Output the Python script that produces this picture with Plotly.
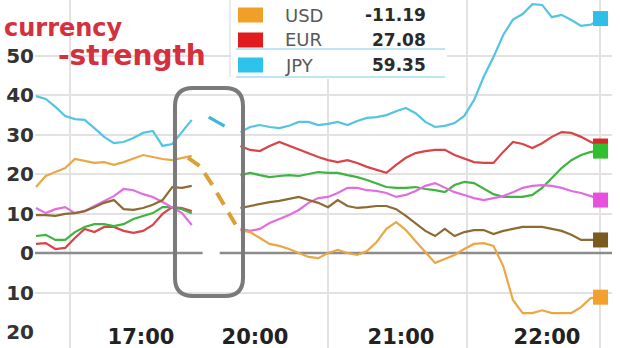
import plotly.graph_objects as go

# ---------------- data ----------------
# time axis in minutes (compressed display axis; left block and right block separated by a gap)
left_t = list(range(30, 95, 4))      # 17 samples
right_t = list(range(114, 263, 4))   # 38 samples

jpy_left = [39.7, 39.0, 37.0, 34.7, 33.9, 33.7, 31.6, 29.4, 27.8, 28.1, 29.1, 30.4, 30.9, 27.1, 27.6, 30.6, 33.7]
jpy_right = [30.6, 31.9, 32.4, 31.9, 31.6, 32.2, 33.2, 33.2, 32.4, 32.7, 33.2, 32.4, 33.4, 34.2, 34.4, 34.9, 35.9, 36.7, 35.4, 33.2,
             31.9, 32.2, 32.9, 34.7, 38.7, 44.6, 49.6, 55.2, 59.1, 60.5, 63.0, 62.8, 59.7, 60.3, 59.0, 57.5, 57.8, 59.35]
eur_left = [2.3, 2.5, 1.0, 1.3, 3.8, 6.1, 5.3, 6.6, 6.6, 5.6, 5.1, 5.6, 7.1, 9.9, 11.6, 11.4, 10.6]
eur_right = [27.1, 26.1, 25.8, 27.1, 28.1, 27.1, 26.1, 25.3, 24.3, 23.5, 23.0, 23.5, 22.8, 21.8, 21.0, 20.3, 22.3, 24.1, 25.3, 25.8,
             26.1, 26.1, 24.8, 23.8, 23.0, 22.8, 22.8, 25.6, 28.1, 27.6, 26.6, 27.8, 29.4, 30.6, 30.4, 29.4, 28.1, 27.08]
grn_left = [4.3, 4.6, 3.3, 3.3, 5.3, 6.6, 7.3, 7.3, 6.8, 7.3, 8.6, 9.4, 10.1, 11.6, 11.6, 11.1, 10.1]
grn_right = [19.7, 20.3, 19.7, 19.2, 19.5, 19.7, 19.5, 20.0, 20.5, 20.3, 20.3, 19.7, 19.2, 18.5, 17.5, 16.7, 16.5, 16.5, 16.7, 16.2,
             15.9, 15.4, 17.2, 18.0, 17.7, 16.2, 14.9, 14.2, 14.2, 14.2, 14.7, 16.5, 19.0, 21.5, 23.5, 24.8, 25.6, 25.8]
mag_left = [11.4, 10.1, 11.1, 11.6, 10.1, 10.6, 11.9, 13.2, 14.4, 16.2, 15.9, 14.9, 14.2, 12.9, 11.6, 10.1, 7.1]
mag_right = [6.1, 5.6, 6.1, 7.6, 8.6, 9.6, 10.9, 12.7, 13.9, 14.2, 15.2, 16.5, 16.5, 15.9, 15.7, 15.2, 14.2, 14.7, 15.7, 17.0,
             17.7, 16.5, 15.4, 14.7, 13.9, 13.4, 13.9, 14.4, 15.4, 16.5, 17.0, 17.2, 17.0, 16.5, 15.7, 15.2, 14.4, 13.4]
brn_left = [9.6, 9.6, 9.4, 9.9, 10.1, 10.6, 11.6, 12.7, 13.4, 11.1, 10.9, 11.4, 12.2, 13.4, 16.7, 16.5, 17.0]
brn_right = [11.4, 11.9, 12.4, 12.9, 13.2, 13.7, 14.2, 13.4, 12.7, 11.6, 13.4, 11.9, 11.4, 11.6, 11.9, 11.9, 11.1, 9.4, 7.6, 5.6,
             4.3, 6.1, 4.3, 5.3, 5.8, 5.8, 4.8, 5.6, 6.1, 6.6, 6.6, 6.6, 6.1, 5.6, 4.6, 3.3, 3.3, 3.3]
usd_left = [16.7, 19.5, 20.5, 21.5, 23.8, 23.3, 22.8, 23.0, 22.3, 23.0, 23.8, 24.8, 24.3, 23.8, 23.5, 24.1, 24.6]
usd_right = [5.8, 5.3, 3.8, 2.3, 1.8, 1.0, 0.0, -1.0, -1.3, 0.0, 0.8, 0.0, -0.5, 0.5, 2.8, 6.1, 7.8, 5.8, 3.0, 0.3,
             -2.5, -1.5, -0.5, 1.0, 2.3, 2.5, 1.8, -3.3, -11.9, -15.2, -15.2, -14.5, -15.2, -15.2, -15.2, -13.7, -11.4, -11.19]

# pieces drawn inside the gap
jpy_gap_t = [101, 107.5]
jpy_gap_v = [34.4, 32.1]
usd_gap_t = [92.5, 97.4, 102.7, 108.5, 113.8]
usd_gap_v = [24.1, 22.0, 17.0, 11.1, 5.3]

series = [
    # name, left, right, color
    ("JPY", jpy_left, jpy_right, "#55c4e2"),
    ("EUR", eur_left, eur_right, "#d84448"),
    ("S4", grn_left, grn_right, "#3fb43f"),
    ("S5", mag_left, mag_right, "#e06ee0"),
    ("S6", brn_left, brn_right, "#8d6b32"),
    ("USD", usd_left, usd_right, "#e9a845"),
]
marker_colors = {"JPY": "#30bde8", "EUR": "#d42a2a", "S4": "#2fbf2f", "S5": "#e650dc", "S6": "#7a5a1e", "USD": "#f2a22c"}

legend_names = ["USD", "EUR", "JPY"]
legend_colors = ["#f0a028", "#e01c1c", "#2ec3ea"]
legend_values = [usd_right[-1], eur_right[-1], jpy_right[-1]]

x_ticks = [73.15, 120, 180, 240]
x_ticktext = ["17:00", "20:00", "21:00", "22:00"]
x_grid = [44, 150, 207.1, 261.8]
y_ticks = [50, 40, 30, 20, 10, 0, -10, -20]
y_ticktext = ["50", "40", "30", "20", "10", "0", "10", "20"]
y_grid = [50, 40, 30, 20, 10, -10]

title_lines = ["currency", "-strength"]

# ---------------- layout helpers ----------------
W, H = 620, 348
ML, MR = 35, 8
PW = W - ML - MR
X_RANGE = [29.59, 266.71]
Y_RANGE = [-24.05, 64.05]


def px_x(p):
    return (p - ML) / PW


def px_y(p):
    return 1 - p / H


fig = go.Figure()

for name, lv, rv, col in series:
    xs = left_t + [None] + right_t
    ys = lv + [None] + rv
    fig.add_trace(go.Scatter(x=xs, y=ys, mode="lines", name=name,
                             line=dict(color=col, width=2.2), hoverinfo="skip"))

fig.add_trace(go.Scatter(x=jpy_gap_t, y=jpy_gap_v, mode="lines",
                         line=dict(color="#3ab8dc", width=3.2), hoverinfo="skip"))
fig.add_trace(go.Scatter(x=usd_gap_t, y=usd_gap_v, mode="lines",
                         line=dict(color="#dba036", width=4, dash="14px,9px"), hoverinfo="skip"))

for name, lv, rv, col in series:
    fig.add_trace(go.Scatter(x=[right_t[-1]], y=[rv[-1]], mode="markers",
                             marker=dict(symbol="square", size=15, color=marker_colors[name]),
                             hoverinfo="skip"))

# invisible trace to carry the grid axes
fig.add_trace(go.Scatter(x=[X_RANGE[0]], y=[Y_RANGE[0]], xaxis="x2", yaxis="y2",
                         mode="markers", marker=dict(opacity=0), hoverinfo="skip"))

shapes = []
# broken zero line
shapes.append(dict(type="line", xref="x", yref="y", x0=X_RANGE[0], x1=98.5, y0=0, y1=0,
                   line=dict(color="#8c8c8c", width=2.5), layer="between"))
shapes.append(dict(type="line", xref="x", yref="y", x0=105.5, x1=X_RANGE[1], y0=0, y1=0,
                   line=dict(color="#8c8c8c", width=2.5), layer="between"))

# rounded rectangle around the gap
x0, x1, y0, y1, r = 175, 243, 88, 296, 18


def P(x, y):
    return f"{px_x(x):.5f},{px_y(y):.5f}"


path = (f"M {P(x0 + r, y0)} L {P(x1 - r, y0)} Q {P(x1, y0)} {P(x1, y0 + r)} "
        f"L {P(x1, y1 - r)} Q {P(x1, y1)} {P(x1 - r, y1)} "
        f"L {P(x0 + r, y1)} Q {P(x0, y1)} {P(x0, y1 - r)} "
        f"L {P(x0, y0 + r)} Q {P(x0, y0)} {P(x0 + r, y0)} Z")
shapes.append(dict(type="path", xref="paper", yref="paper", path=path,
                   line=dict(color="#7a7a7a", width=4), layer="above"))

# legend box
shapes.append(dict(type="rect", xref="paper", yref="paper", x0=px_x(231), x1=px_x(447),
                   y0=px_y(79), y1=px_y(0), fillcolor="white", line=dict(width=0), layer="above"))
shapes.append(dict(type="line", xref="paper", yref="paper", x0=px_x(230), x1=px_x(230),
                   y0=px_y(77), y1=px_y(0), line=dict(color="#dedede", width=1.2), layer="above"))
for yy in (49, 77):
    shapes.append(dict(type="line", xref="paper", yref="paper", x0=px_x(236), x1=px_x(445),
                       y0=px_y(yy), y1=px_y(yy), line=dict(color="#a9dcec", width=1.5), layer="above"))
row_y = [15, 40, 65]
for ry, c in zip(row_y, legend_colors):
    shapes.append(dict(type="rect", xref="paper", yref="paper", x0=px_x(238), x1=px_x(263),
                       y0=px_y(ry + 7.5), y1=px_y(ry - 7.5), fillcolor=c, line=dict(width=0), layer="above"))

annotations = []
for ry, nm, val in zip(row_y, legend_names, legend_values):
    annotations.append(dict(xref="paper", yref="paper", x=px_x(283), y=px_y(ry), text=nm,
                            xanchor="left", yanchor="middle", showarrow=False,
                            font=dict(family="DejaVu Sans", size=18, color="#595959")))
    annotations.append(dict(xref="paper", yref="paper", x=px_x(428), y=px_y(ry), text=f"{val:.2f}",
                            xanchor="right", yanchor="middle", showarrow=False,
                            font=dict(family="DejaVu Sans", size=17, color="#2a2a2a", weight="bold")))

annotations.append(dict(xref="paper", yref="paper", x=px_x(2), y=px_y(28), text=title_lines[0],
                        xanchor="left", yanchor="middle", showarrow=False,
                        font=dict(family="DejaVu Sans", size=24, color="#d5303e", weight="bold")))
annotations.append(dict(xref="paper", yref="paper", x=px_x(56), y=px_y(55), text=title_lines[1],
                        xanchor="left", yanchor="middle", showarrow=False,
                        font=dict(family="DejaVu Sans", size=28, color="#d5303e", weight="bold")))

fig.update_layout(
    width=W, height=H, margin=dict(l=ML, r=MR, t=0, b=0),
    paper_bgcolor="white", plot_bgcolor="white", showlegend=False,
    xaxis=dict(range=X_RANGE, tickvals=x_ticks, ticktext=x_ticktext, ticklabelposition="inside",
               ticklabelstandoff=-3, ticklabeloverflow="allow",
               showgrid=False, zeroline=False, showline=False, ticks="",
               tickfont=dict(family="DejaVu Sans", size=21, color="#222222", weight="bold")),
    xaxis2=dict(range=X_RANGE, overlaying="x", tickvals=x_grid, showticklabels=False,
                showgrid=True, gridcolor="#e2e2e2", gridwidth=1.5, zeroline=False, showline=False),
    yaxis=dict(range=Y_RANGE, tickvals=y_ticks, ticktext=y_ticktext, showgrid=False, zeroline=False,
               showline=False, ticks="", ticklabeloverflow="allow",
               tickfont=dict(family="DejaVu Sans", size=20, color="#333333", weight="bold")),
    yaxis2=dict(range=Y_RANGE, overlaying="y", tickvals=y_grid, showticklabels=False,
                showgrid=True, gridcolor="#e2e2e2", gridwidth=1.5, zeroline=False, showline=False),
    shapes=shapes, annotations=annotations,
)

fig.write_html("out.html")
